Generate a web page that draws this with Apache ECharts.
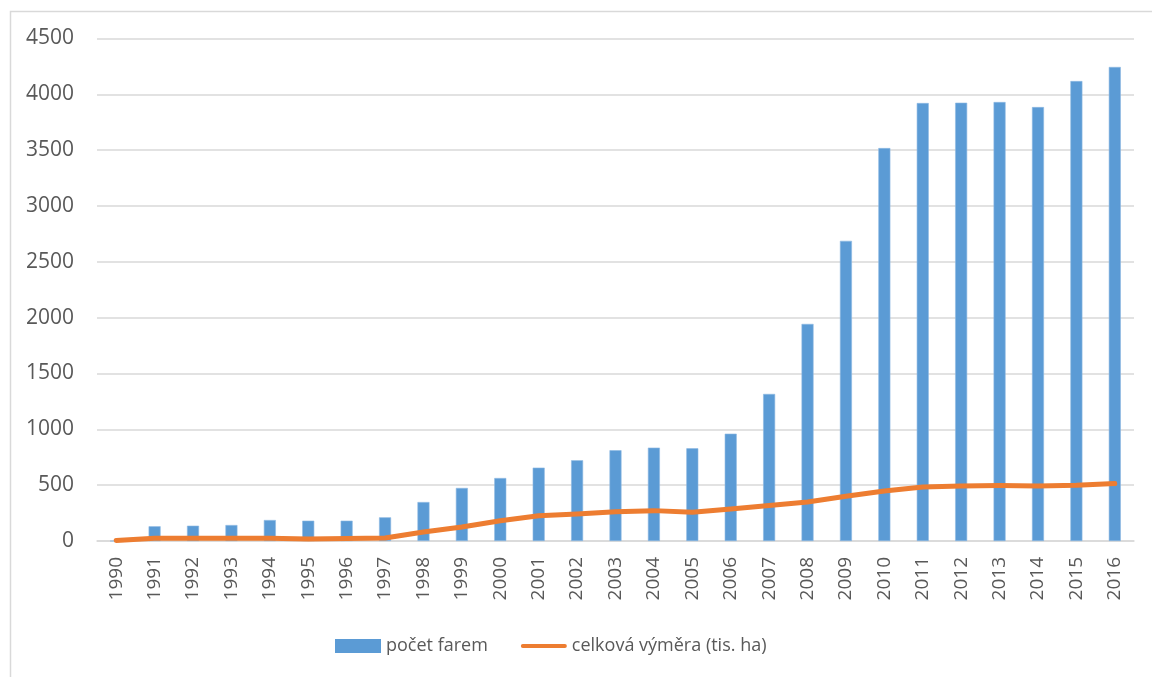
<!DOCTYPE html>
<html>
<head>
<meta charset="utf-8">
<script src="https://cdn.jsdelivr.net/npm/echarts@6/dist/echarts.min.js"></script>
<style>
  html, body { margin: 0; padding: 0; background: #fff; }
  #chart { width: 1152px; height: 677px; }
</style>
</head>
<body>
<div id="chart"></div>
<script>
// Years on the category axis
const years = ['1990','1991','1992','1993','1994','1995','1996','1997','1998','1999',
  '2000','2001','2002','2003','2004','2005','2006','2007','2008','2009',
  '2010','2011','2012','2013','2014','2015','2016'];

// Number of farms per year
const pocetFarem = [0, 132, 137, 143, 188, 182, 182, 212, 349, 475,
  564, 657, 723, 813, 836, 830, 961, 1317, 1944, 2688,
  3519, 3922, 3925, 3931, 3886, 4119, 4245];

// Total area in thousand hectares
const celkovaVymera = [5, 24, 25, 25, 25, 18, 22, 27, 80, 125,
  182, 227, 242, 263, 272, 257, 287, 317, 349, 400,
  448, 484, 493, 496, 493, 499, 514];

const seriesNames = ['počet farem', 'celková výměra (tis. ha)'];

const textColor = '#595959';
const gridColor = '#d9d9d9';
const fontFamily = '"Open Sans", "Noto Sans", sans-serif';

// Thin rounded bar used as the legend marker of the line series
const lineIcon = 'path://M2,0L46,0A2,2,0,0,1,46,4L2,4A2,2,0,0,1,2,0Z';

const chart = echarts.init(document.getElementById('chart'), null, { renderer: 'canvas' });

chart.setOption({
  animation: false,
  backgroundColor: '#ffffff',
  textStyle: { fontFamily: fontFamily },
  graphic: [{
    type: 'rect',
    left: 8, top: 9,
    shape: { width: 1200, height: 720 },
    style: { fill: 'none', stroke: '#d9d9d9', lineWidth: 1.5 },
    silent: true
  }],
  grid: { left: 97, right: 18, top: 38.5, bottom: 136 },
  legend: {
    left: 330, top: 632,
    itemWidth: 46, itemHeight: 14, itemGap: 33,
    symbolKeepAspect: true,
    textStyle: { color: textColor, fontSize: 18, fontFamily: fontFamily },
    data: [
      { name: seriesNames[0], icon: 'rect', itemStyle: { color: '#5B9BD5', borderWidth: 0 } },
      { name: seriesNames[1], icon: lineIcon, itemStyle: { color: '#ED7D31', borderWidth: 0 } }
    ]
  },
  xAxis: {
    type: 'category',
    data: years,
    boundaryGap: true,
    axisLine: { show: true, lineStyle: { color: gridColor, width: 1.5 } },
    axisTick: { show: false },
    axisLabel: { interval: 0, rotate: 90, margin: 16, color: textColor, fontSize: 19, fontFamily: fontFamily }
  },
  yAxis: {
    type: 'value',
    min: 0, max: 4500, interval: 500,
    axisLine: { show: false },
    axisTick: { show: false },
    splitLine: { lineStyle: { color: gridColor, width: 1.5 } },
    axisLabel: {
      margin: 23, color: textColor, fontSize: 21, fontFamily: fontFamily,
      formatter: function (v) { return String(v); }
    }
  },
  series: [
    {
      name: seriesNames[0],
      type: 'bar',
      data: pocetFarem,
      barWidth: 12,
      itemStyle: { color: '#5B9BD5', borderColor: '#8DB9E3', borderWidth: 0.6 }
    },
    {
      name: seriesNames[1],
      type: 'line',
      data: celkovaVymera,
      symbol: 'none',
      smooth: false,
      lineStyle: { color: '#ED7D31', width: 5, cap: 'round', join: 'round' },
      itemStyle: { color: '#ED7D31' },
      z: 3
    }
  ]
});
</script>
</body>
</html>
